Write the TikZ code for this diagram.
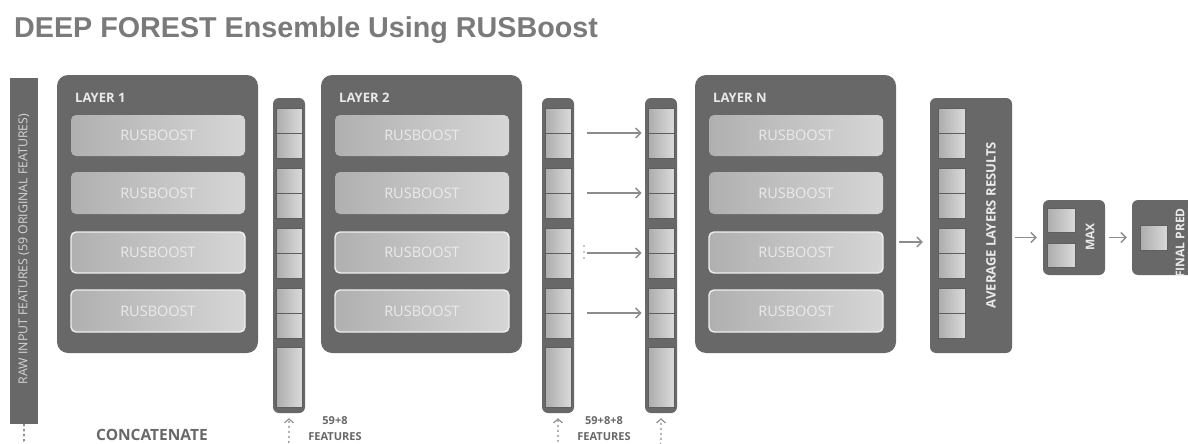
\documentclass[tikz,border=0pt]{standalone}
\usepackage{fontspec}
\setmainfont{Open Sans}
\newfontfamily\titlefont{Liberation Sans}
\usetikzlibrary{arrows.meta,fit}
\definecolor{dk}{HTML}{686868}
\definecolor{txtg}{HTML}{7A7A7A}
\definecolor{arrg}{HTML}{8C8C8C}
\definecolor{cellL}{HTML}{ACACAC}
\definecolor{cellR}{HTML}{DADADA}
\definecolor{rusL}{HTML}{B0B0B0}
\definecolor{rusR}{HTML}{D6D6D6}
\definecolor{lbl}{HTML}{EAEAEA}
\tikzset{
  layerbox/.style={fill=dk, rounded corners=11pt, inner sep=0pt, draw=none},
  rusbox/.style={left color=rusL, right color=rusR, rounded corners=5pt, inner sep=0pt},
  rusboxb/.style={rusbox, draw=white!88!gray, line width=1.4pt},
  rustxt/.style={text=lbl, font=\fontsize{14.5}{16}\selectfont, inner sep=0pt},
  colbox/.style={fill=dk, rounded corners=6pt, inner sep=0pt},
  cellbox/.style={left color=cellL, right color=cellR, draw=dk!90!black, line width=0.6pt, inner sep=0pt},
  layerlbl/.style={text=lbl, font=\bfseries\fontsize{13}{15}\selectfont, anchor=west, inner sep=0pt},
  sidelbl/.style={text=lbl, font=\bfseries\fontsize{12}{14}\selectfont, rotate=90, inner sep=0pt},
  arr/.style={draw=arrg, line width=1.3pt, -{Straight Barb[length=5pt,width=10pt]}},
  feed/.style={draw=arrg, line width=1.1pt, dash pattern=on 2pt off 3pt, rounded corners=9pt,
     -{Straight Barb[length=4pt,width=9pt]}},
  botlbl/.style={text=dk, font=\bfseries\fontsize{11}{13}\selectfont, inner sep=0pt, align=center}
}
\newcommand\cellgroups[3]{% name, x left, x right
  \foreach \k/\yy in {1/108,2/168,3/228,4/288}{
    \node[cellbox, fit={(#2,\yy)(#3,{\yy+25})}] (#1-\k-a) {};
    \node[cellbox, fit={(#2,{\yy+25})(#3,{\yy+50})}] (#1-\k-b) {};
    \node[inner sep=0pt, fit=(#1-\k-a)(#1-\k-b)] (#1-g\k) {};
  }
}
\newcommand\featcol[2]{% name, x0
  \node[colbox, fit={(#2,98)({#2+32},413)}] (#1) {};
  \cellgroups{#1}{#2+3}{#2+29}
  \node[cellbox, fit={({#2+3},347)({#2+29},407)}] (#1-last) {};
}
\newcommand\layerblock[3]{% name, x0, label
  \node[layerbox, fit={(#2,75)({#2+201},353)}] (#1) {};
  \node[layerlbl] (#1-lbl) at ({#2+18},98) {#3};
  \node[rusbox, fit={({#2+14},115)({#2+188},156)}] (#1-r1) {};
  \node[rusbox, fit={({#2+14},172)({#2+188},214)}] (#1-r2) {};
  \node[rusboxb, fit={({#2+14},232)({#2+188},273)}] (#1-r3) {};
  \node[rusboxb, fit={({#2+14},290)({#2+188},332)}] (#1-r4) {};
  \foreach \r in {1,2,3,4}{
    \node[rustxt] (#1-t\r) at (#1-r\r.center) {RUSBOOST};
  }
}
\begin{document}
\begin{tikzpicture}[x=1pt,y=-1pt]
\useasboundingbox (0,0) rectangle (1188,444);
\clip (0,0) rectangle (1188,444);
\fill[white] (0,0) rectangle (1188,444);

% title
\node[anchor=west, inner sep=0pt, text=txtg, font=\titlefont\bfseries\fontsize{28.7}{31}\selectfont] (title) at (14,30) {DEEP FOREST Ensemble Using RUSBoost};

% raw input bar
\node[fill=dk, inner sep=0pt, fit={(10,78)(38,424)}] (raw) {};
\node[sidelbl, text=lbl!85!dk, font=\fontsize{12.3}{14}\selectfont] (rawlbl) at (24,249) {RAW INPUT FEATURES (59 ORIGINAL FEATURES)};

% layers
\layerblock{L1}{57}{LAYER 1}
\layerblock{L2}{321}{LAYER 2}
\layerblock{LN}{695}{LAYER N}

% feature columns
\featcol{C1}{273}
\featcol{C2}{542}
\featcol{C3}{645}

% arrows between columns
\foreach \k in {1,2,3,4}{
  \draw[arr] ([xshift=15pt]C2-g\k.east) -- ([xshift=-6pt]C3-g\k.west);
}
\foreach \dy in {-6,0,6}{
  \fill[arrg] (584,{252+\dy}) circle (0.9pt);
}

% average box
\node[layerbox, rounded corners=6pt, fit={(930,98)(1012,353)}] (avg) {};
\cellgroups{A}{938}{965}
\node[sidelbl, font=\bfseries\fontsize{13}{15}\selectfont] (avglbl) at (991,225) {AVERAGE LAYERS RESULTS};
\coordinate (ay) at (0,242);
\draw[arr, shorten <=3pt, shorten >=7pt] (LN.east |- ay) -- (avg.west |- ay);

% max box
\node[layerbox, rounded corners=6pt, fit={(1043,200)(1105,275)}] (max) {};
\node[cellbox, fit={(1047,208)(1075,232)}] (M1) {};
\node[cellbox, fit={(1047,243)(1075,267)}] (M2) {};
\node[sidelbl] (maxlbl) at (1090,237) {MAX};
\draw[arr, shorten <=3pt, shorten >=6pt] (avg.east |- max.west) -- (max.west);

% final prediction box
\node[layerbox, rounded corners=6pt, fit={(1132,200)(1205,275)}] (fin) {};
\node[cellbox, fit={(1140,225)(1167,250)}] (F1) {};
\node[sidelbl] (finlbl) at (1180,243) {FINAL PRED};
\draw[arr, shorten <=4pt, shorten >=5pt] (max.east) -- (fin.west);

% concatenate feeds
\coordinate (bot) at (0,450);
\draw[feed] (raw.south) |- (bot -| C1.south) -- ([yshift=-5pt]C1.south);
\draw[feed] (raw.south) |- (bot -| C2.south) -- ([yshift=-5pt]C2.south);
\draw[feed] (raw.south) |- (bot -| C3.south) -- ([yshift=-5pt]C3.south);

% bottom labels
\node[botlbl, font=\bfseries\fontsize{15.5}{17}\selectfont] (concat) at (152,435) {CONCATENATE};
\node[botlbl] (f1a) at (335,421) {59+8};
\node[botlbl] (f1b) at (335,437) {FEATURES};
\node[botlbl] (f2a) at (604,421) {59+8+8};
\node[botlbl] (f2b) at (604,437) {FEATURES};
\end{tikzpicture}
\end{document}
